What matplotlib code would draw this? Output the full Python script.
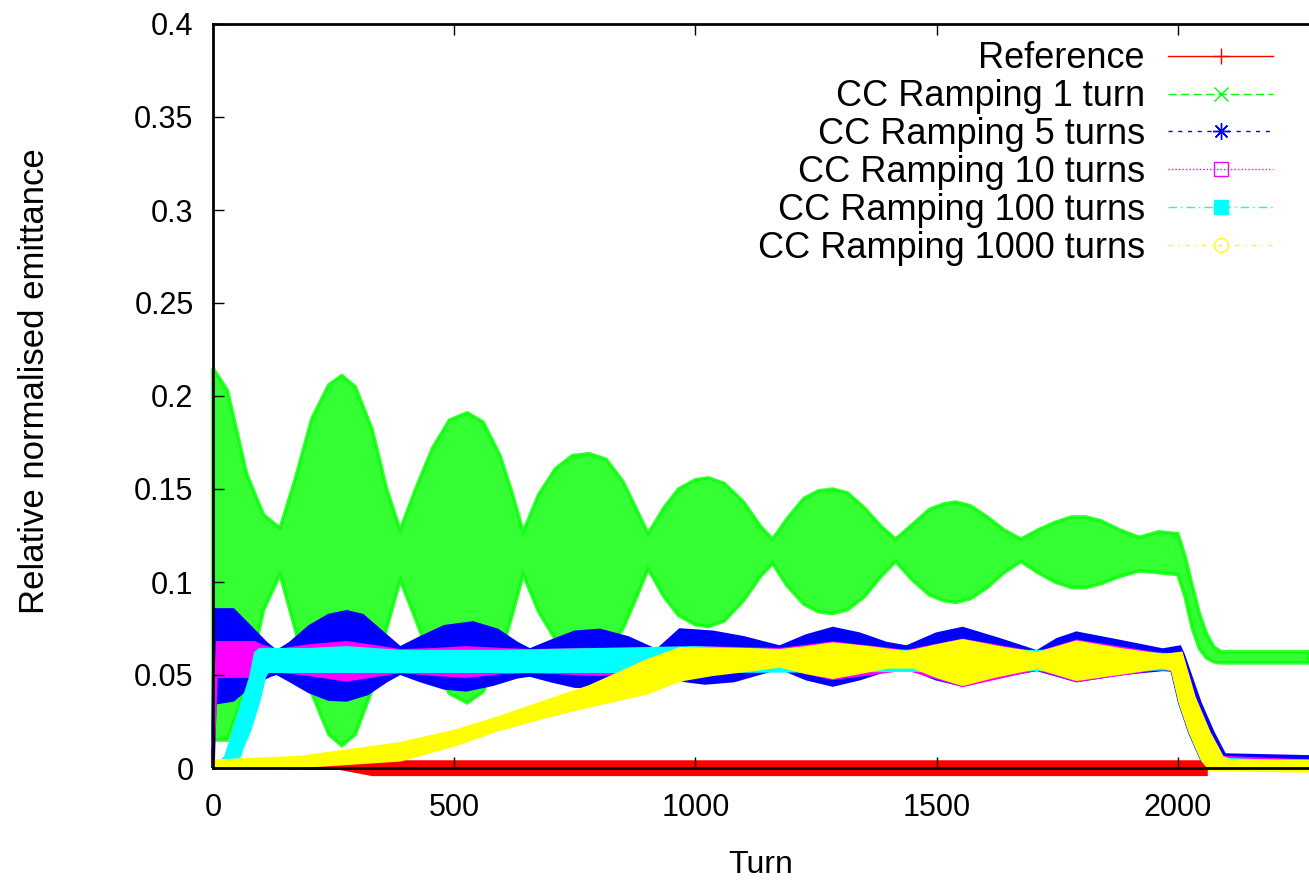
import numpy as np
import matplotlib
matplotlib.use("Agg")
import matplotlib.pyplot as plt
from matplotlib.lines import Line2D
from matplotlib.ticker import FuncFormatter

plt.rcParams['font.family'] = ['Liberation Sans', 'DejaVu Sans']
plt.rcParams['font.size'] = 22

labels = ["Reference", "CC Ramping 1 turn", "CC Ramping 5 turns",
          "CC Ramping 10 turns", "CC Ramping 100 turns", "CC Ramping 1000 turns"]
colors = ["#ff0000", "#00ff00", "#0000ff", "#ff00ff", "#00ffff", "#ffff00"]

# envelopes (min / max over the fast oscillation)
ref_t = [0, 263, 330, 2060]
ref_lo = [0.0, -0.0005, -0.0038, -0.0038]
ref_hi = [0.0, 0.002, 0.0036, 0.0036]

g_t = [0, 30, 70, 105, 139, 170, 205, 240, 267, 295, 330, 360, 388, 420, 455,
       490, 527, 560, 595, 620, 643, 675, 710, 745, 780, 815, 850, 880, 902, 935,
       965, 1000, 1027, 1060, 1100, 1135, 1160, 1190, 1225, 1255, 1284, 1315, 1350,
       1385, 1415, 1450, 1485, 1515, 1540, 1570, 1605, 1640, 1675, 1710, 1745, 1780,
       1809, 1840, 1880, 1920, 1960, 2000, 2015, 2030, 2045, 2060, 2075, 2090, 2272]
g_lo = [0.015, 0.015, 0.045, 0.085, 0.104, 0.075, 0.040, 0.018, 0.012, 0.018,
        0.042, 0.075, 0.101, 0.080, 0.056, 0.040, 0.035, 0.041, 0.060, 0.082,
        0.104, 0.084, 0.069, 0.061, 0.059, 0.062, 0.075, 0.093, 0.107, 0.092,
        0.082, 0.077, 0.076, 0.079, 0.090, 0.103, 0.110, 0.098, 0.088, 0.084,
        0.083, 0.085, 0.092, 0.103, 0.111, 0.101, 0.093, 0.090, 0.089, 0.091,
        0.097, 0.105, 0.111, 0.105, 0.100, 0.097, 0.097, 0.099, 0.103, 0.106,
        0.105, 0.104, 0.092, 0.075, 0.064, 0.059, 0.057, 0.0565, 0.0565]
g_hi = [0.215, 0.203, 0.158, 0.136, 0.129, 0.155, 0.188, 0.206, 0.211, 0.205,
        0.182, 0.150, 0.128, 0.150, 0.172, 0.187, 0.191, 0.186, 0.168, 0.148,
        0.127, 0.147, 0.161, 0.168, 0.169, 0.166, 0.154, 0.138, 0.126, 0.140,
        0.150, 0.155, 0.156, 0.153, 0.143, 0.130, 0.123, 0.134, 0.145, 0.149,
        0.150, 0.148, 0.140, 0.130, 0.123, 0.131, 0.139, 0.142, 0.143, 0.141,
        0.135, 0.128, 0.123, 0.128, 0.132, 0.135, 0.135, 0.133, 0.128, 0.124,
        0.127, 0.126, 0.114, 0.098, 0.083, 0.072, 0.065, 0.0625, 0.0625]

b_hi_t = [0, 3, 42, 80, 110, 132, 160, 200, 240, 277, 310, 350, 388, 430, 480,
          539, 590, 630, 657, 700, 750, 802, 860, 920, 968, 1036, 1100, 1175, 1230,
          1285, 1340, 1395, 1438, 1500, 1554, 1630, 1708, 1750, 1790, 1880, 1969,
          2004, 2011, 2046, 2073, 2097, 2272]
b_hi = [0.02, 0.085, 0.085, 0.075, 0.067, 0.0624, 0.067, 0.076, 0.082, 0.084,
        0.082, 0.073, 0.0645, 0.070, 0.076, 0.078, 0.074, 0.067, 0.0634, 0.068,
        0.073, 0.074, 0.070, 0.063, 0.0742, 0.073, 0.070, 0.065, 0.071,
        0.075, 0.072, 0.067, 0.065, 0.072, 0.075, 0.069, 0.0624, 0.069, 0.0725,
        0.068, 0.0634, 0.065, 0.061, 0.035, 0.019, 0.007, 0.006]
b_lo_t = [0, 4, 42, 80, 120, 132, 160, 200, 240, 277, 320, 360, 388, 430, 480,
          525, 580, 630, 657, 700, 750, 800, 860, 920, 980, 1020, 1080, 1120, 1175,
          1230, 1285, 1340, 1400, 1451, 1499, 1554, 1620, 1708, 1790, 1890, 1969,
          1988, 2004, 2025, 2050, 2272]
b_lo = [0.0, 0.035, 0.0366, 0.045, 0.050, 0.051, 0.047, 0.041, 0.037, 0.0366,
        0.040, 0.047, 0.051, 0.047, 0.043, 0.042, 0.045, 0.049, 0.050, 0.047,
        0.044, 0.0436, 0.047, 0.051, 0.047, 0.0457, 0.047, 0.050, 0.054,
        0.048, 0.0446, 0.048, 0.053, 0.053, 0.048, 0.0446, 0.049, 0.053, 0.047,
        0.051, 0.053, 0.0527, 0.035, 0.019, 0.0043, 0.0043]

m_t = [0, 8, 87, 100, 132, 200, 277, 350, 388, 460, 525, 600, 657, 800, 920,
       1000, 1175, 1285, 1438, 1554, 1708, 1790, 1969, 1988, 2008, 2035, 2066, 2093, 2272]
m_lo = [0.0, 0.049, 0.049, 0.0516, 0.052, 0.050, 0.047, 0.050, 0.0516, 0.050,
        0.049, 0.051, 0.0516, 0.050, 0.0516, 0.050, 0.054, 0.0478, 0.053, 0.044,
        0.053, 0.0467, 0.0535, 0.0522, 0.0345, 0.015, 0.0, 0.0, 0.0]
m_hi = [0.008, 0.0677, 0.0677, 0.066, 0.0635, 0.066, 0.0677, 0.065, 0.0634, 0.064,
        0.065, 0.064, 0.0634, 0.064, 0.0634, 0.065, 0.064, 0.0675, 0.063, 0.069,
        0.062, 0.0685, 0.0612, 0.061, 0.062, 0.038, 0.019, 0.006, 0.004]

c_hi_t = [0, 25, 41, 62, 77, 87, 97, 200, 277, 388, 600, 1000, 1200, 1800, 2008,
          2035, 2066, 2093, 2272]
c_hi = [0.0, 0.006, 0.019, 0.0366, 0.049, 0.062, 0.064, 0.064, 0.065, 0.063,
        0.063, 0.065, 0.063, 0.063, 0.061, 0.037, 0.018, 0.005, 0.003]
c_lo_t = [0, 56, 62, 77, 97, 108, 114, 300, 1000, 1300, 1988, 2004, 2025, 2050,
          2066, 2272]
c_lo = [0.0, 0.006, 0.011, 0.020, 0.0366, 0.049, 0.0516, 0.0516, 0.0516, 0.052,
        0.053, 0.035, 0.019, 0.004, 0.0, 0.0]

y_hi_t = [0, 180, 388, 500, 588, 700, 780, 900, 968, 1036, 1100, 1175, 1230,
          1285, 1360, 1438, 1500, 1554, 1630, 1708, 1790, 1880, 1969, 2008, 2035,
          2066, 2093, 2110, 2272]
y_hi = [0.004, 0.006, 0.0134, 0.020, 0.027, 0.037, 0.044, 0.058, 0.0645, 0.064,
        0.064, 0.0634, 0.065, 0.067, 0.065, 0.0624, 0.066, 0.0688, 0.065, 0.0618,
        0.068, 0.064, 0.0608, 0.062, 0.038, 0.019, 0.006, 0.004, 0.004]
y_lo_t = [0, 180, 388, 500, 588, 700, 780, 900, 968, 1036, 1100, 1175, 1230,
          1285, 1340, 1400, 1451, 1499, 1554, 1620, 1708, 1790, 1890, 1969, 1988,
          2004, 2025, 2050, 2066, 2272]
y_lo = [0.0, 0.0005, 0.004, 0.012, 0.020, 0.028, 0.033, 0.040, 0.047, 0.050,
        0.052, 0.0545, 0.051, 0.0484, 0.051, 0.054, 0.054, 0.049, 0.0446, 0.049,
        0.0537, 0.0473, 0.051, 0.054, 0.0527, 0.035, 0.019, 0.0043, -0.001, -0.002]

x_ticks = [0, 500, 1000, 1500, 2000]
y_ticks = [0, 0.05, 0.1, 0.15, 0.2, 0.25, 0.3, 0.35, 0.4]


def band(ax, t_hi, v_hi, t_lo, v_lo, color, alpha=1.0, lw=1.5):
    xs = np.r_[t_hi, t_lo[::-1]]
    ys = np.r_[v_hi, v_lo[::-1]]
    ax.fill(xs, ys, facecolor=color, edgecolor=color, lw=lw, alpha=alpha,
            clip_on=False)


fig = plt.figure(figsize=(13.09, 8.82), dpi=100)
ax = fig.add_axes([213 / 1309, 114 / 882, 1 - 213 / 1309, 744 / 882])

band(ax, ref_t, ref_hi, ref_t, ref_lo, colors[0])
band(ax, g_t, g_hi, g_t, g_lo, colors[1], alpha=0.8, lw=2.5)
band(ax, b_hi_t, b_hi, b_lo_t, b_lo, colors[2], lw=2.5)
band(ax, m_t, m_hi, m_t, m_lo, colors[3])
band(ax, c_hi_t, c_hi, c_lo_t, c_lo, colors[4])
band(ax, y_hi_t, y_hi, y_lo_t, y_lo, colors[5])

ax.set_xlim(0, 2272)
ax.set_ylim(0, 0.4)
ax.set_xticks(x_ticks)
ax.set_yticks(y_ticks)
ax.yaxis.set_major_formatter(FuncFormatter(lambda v, p: "%g" % v))
ax.tick_params(direction="in", length=8, width=1, top=True, right=False,
               labelsize=22)
ax.tick_params(axis="x", pad=18)
ax.tick_params(axis="y", pad=14)
for s in ["left", "bottom", "top"]:
    ax.spines[s].set_linewidth(2)
    ax.spines[s].set_zorder(5)
ax.spines["right"].set_visible(False)

ax.set_xlabel("Turn", fontsize=23)
ax.xaxis.set_label_coords(0.5, -0.11)
ax.set_ylabel("Relative normalised emittance", fontsize=25)
ax.yaxis.set_label_coords(-0.148, 0.52)

handles = [
    Line2D([], [], color=colors[0], lw=1, ls="-", marker="+", ms=12),
    Line2D([], [], color=colors[1], lw=1, ls=(0, (6, 3)), marker="x", ms=10),
    Line2D([], [], color=colors[2], lw=1, ls=(0, (3, 4)), marker=(8, 2, 0), ms=12),
    Line2D([], [], color=colors[3], lw=1, ls=(0, (1, 1.5)), marker="s", ms=10,
           mfc="none"),
    Line2D([], [], color=colors[4], lw=1, ls=(0, (6, 3, 1, 3)), marker="s", ms=10),
    Line2D([], [], color=colors[5], lw=1, ls=(0, (3, 4, 1, 4)), marker="o", ms=10,
           mfc="none"),
]
ax.legend(handles, labels, loc="upper right", bbox_to_anchor=(0.983, 1.0),
          frameon=False, markerfirst=False, handlelength=2.9, handletextpad=0.65,
          labelspacing=0.08, borderaxespad=0.08, fontsize=26)

fig.savefig("out.png", dpi=100)
